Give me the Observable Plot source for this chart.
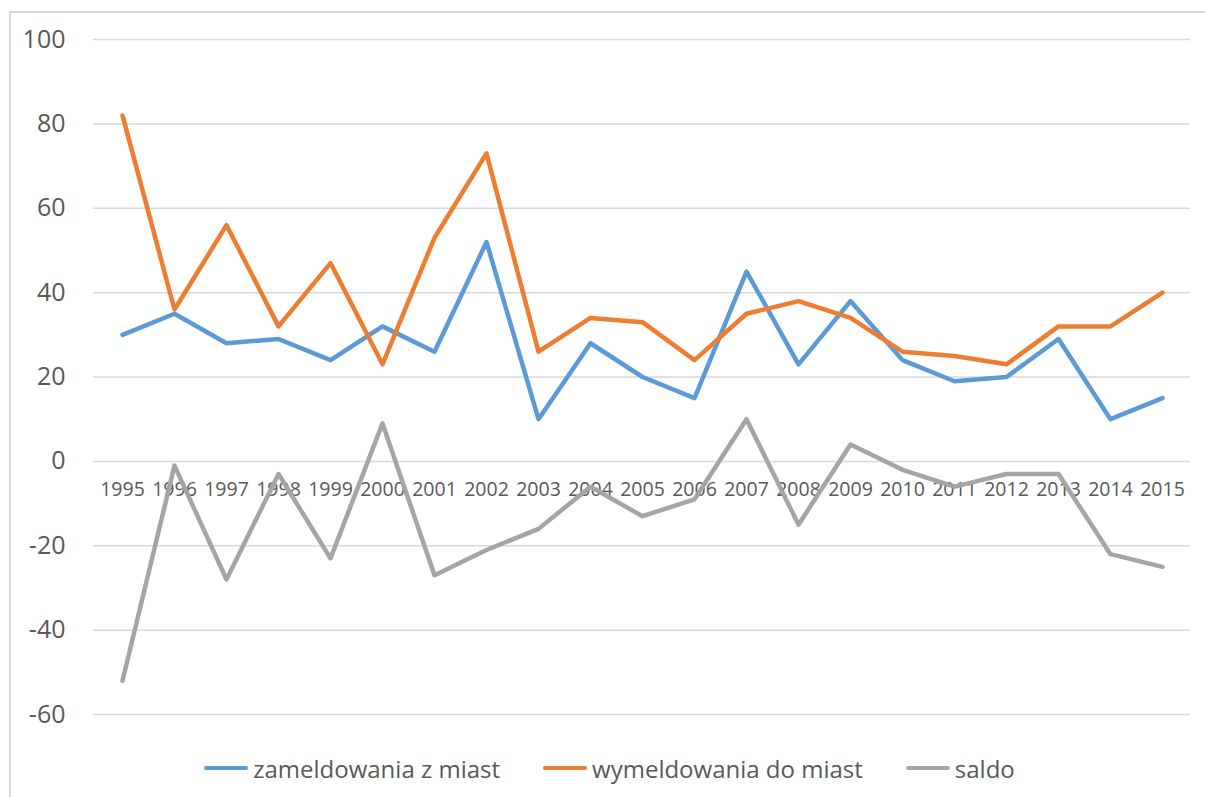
<!DOCTYPE html>
<html>
<head>
<meta charset="utf-8">
<script src="https://cdn.jsdelivr.net/npm/d3@7"></script>
<script src="https://cdn.jsdelivr.net/npm/@observablehq/plot@0.6"></script>
<style>
  html, body { margin: 0; padding: 0; background: #fff; }
  #wrap { position: relative; width: 1205px; height: 797px; overflow: hidden; font-family: "Open Sans", "Liberation Sans", Arial, sans-serif; }
  #frame { position: absolute; left: 9px; top: 11px; width: 1300px; height: 900px; border: 2px solid #d9d9d9; box-sizing: border-box; }
  #chart { position: absolute; left: 0; top: 0; }
  #legend { position: absolute; left: 0; width: 1205px; top: 751px; height: 34px; display: flex; justify-content: center; align-items: center; gap: 43px; font-size: 24px; color: #595959; padding-left: 14px; box-sizing: border-box; }
  .item { display: flex; align-items: center; }
  .sw { display: inline-block; width: 44px; height: 4.5px; border-radius: 2px; margin-right: 5px; }
</style>
</head>
<body>
<div id="wrap">
  <div id="frame"></div>
  <div id="chart"></div>
  <div id="legend"></div>
</div>
<script>
const years = ["1995","1996","1997","1998","1999","2000","2001","2002","2003","2004","2005","2006","2007","2008","2009","2010","2011","2012","2013","2014","2015"];
const zameldowania = [30,35,28,29,24,32,26,52,10,28,20,15,45,23,38,24,19,20,29,10,15];
const wymeldowania = [82,36,56,32,47,23,53,73,26,34,33,24,35,38,34,26,25,23,32,32,40];
const saldo = [-52,-1,-28,-3,-23,9,-27,-21,-16,-6,-13,-9,10,-15,4,-2,-6,-3,-3,-22,-25];
const seriesNames = ["zameldowania z miast", "wymeldowania do miast", "saldo"];
const seriesColors = ["#5B9BD5", "#ED7D31", "#A5A5A5"];
const yTicks = [-60,-40,-20,0,20,40,60,80,100];

const seriesValues = [zameldowania, wymeldowania, saldo];
const data = [];
seriesNames.forEach((name, i) => {
  years.forEach((yr, j) => data.push({series: name, year: yr, value: seriesValues[i][j]}));
});

const chart = Plot.plot({
  width: 1205,
  height: 730,
  marginLeft: 93,
  marginRight: 15,
  marginTop: 39,
  marginBottom: 16,
  x: { type: "point", domain: years, padding: 0.5, axis: null },
  y: { domain: [-60, 100], ticks: yTicks },
  color: { domain: seriesNames, range: seriesColors },
  style: { fontFamily: "Open Sans, Liberation Sans, Arial, sans-serif", color: "#595959", background: "transparent", overflow: "visible" },
  marks: [
    Plot.gridY(yTicks, { stroke: "#d9d9d9", strokeOpacity: 1, strokeWidth: 1.5 }),
    Plot.axisY(yTicks, { tickSize: 0, tickPadding: 28, fontSize: 25, fill: "#595959", label: null, tickFormat: d => String(d) }),
    Plot.text(years, { x: d => d, y: () => 0, dy: 28, text: d => d, fontSize: 19.5, fill: "#595959" }),
    Plot.line(data, { x: "year", y: "value", z: "series", stroke: "series", strokeWidth: 4.5, strokeLinejoin: "round", strokeLinecap: "round" })
  ]
});
document.getElementById("chart").appendChild(chart);

const legend = document.getElementById("legend");
seriesNames.forEach((name, i) => {
  const item = document.createElement("div");
  item.className = "item";
  const sw = document.createElement("span");
  sw.className = "sw";
  sw.style.background = seriesColors[i];
  item.appendChild(sw);
  const t = document.createElement("span");
  t.textContent = name;
  item.appendChild(t);
  legend.appendChild(item);
});
</script>
</body>
</html>
